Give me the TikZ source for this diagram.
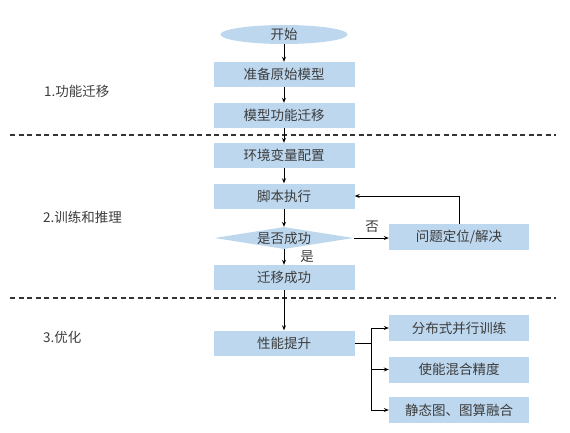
\documentclass[tikz,border=0pt]{standalone}
\usepackage{fontspec}
\setmainfont{Noto Sans CJK SC}
\usetikzlibrary{shapes.geometric,arrows.meta}
\definecolor{boxblue}{HTML}{BDD7EE}
\definecolor{txt}{HTML}{3C3C3C}
\begin{document}
\begin{tikzpicture}[x=1pt,y=-1pt,
  every node/.style={font=\fontsize{13.5}{16}\selectfont, text=txt},
  box/.style={rectangle, fill=boxblue, minimum width=141pt, minimum height=25pt, inner sep=0pt},
  sbox/.style={rectangle, fill=boxblue, minimum width=140pt, minimum height=26pt, inner sep=0pt},
  oval/.style={ellipse, fill=boxblue, minimum width=127pt, minimum height=19pt, inner sep=0pt},
  dia/.style={diamond, fill=boxblue, aspect=6.3, minimum width=139pt, minimum height=22pt, inner sep=0pt},
  conn/.style={draw=black, line width=0.9pt, -{Stealth[length=5pt,width=4pt]}},
  plainline/.style={draw=black, line width=0.9pt},
  sep/.style={draw=black!80, line width=1.2pt, dash pattern=on 5pt off 3.5pt},
  lbl/.style={anchor=west, inner sep=0pt}
]
\useasboundingbox (0,0) rectangle (570,433);
% separators
\coordinate (s1a) at (10,135); \coordinate (s1b) at (556,135);
\coordinate (s2a) at (10,298); \coordinate (s2b) at (556,298);
\draw[sep] (s1a) -- (s1b);
\draw[sep] (s2a) -- (s2b);
% section labels
\node[lbl] (l1) at (44,91) {1.功能迁移};
\node[lbl] (l2) at (43,217) {2.训练和推理};
\node[lbl] (l3) at (43,337) {3.优化};
% main column
\node[oval] (st) at (284,34.5) {开始};
\node[box] (b1) at (284,74.5) {准备原始模型};
\node[box] (b2) at (284,115.5) {模型功能迁移};
\node[box] (b3) at (284,155.5) {环境变量配置};
\node[box] (b4) at (284,196) {脚本执行};
\node[dia] (d) at (284,238) {是否成功};
\node[box] (b5) at (284,277.5) {迁移成功};
\node[box] (b6) at (284,343) {性能提升};
% side boxes
\node[sbox] (q) at (459,237) {问题定位/解决};
\node[sbox] (r1) at (459,328) {分布式并行训练};
\node[sbox] (r2) at (459,369.5) {使能混合精度};
\node[sbox] (r3) at (459,410) {静态图、图算融合};
% connectors
\draw[conn] (st) -- (b1);
\draw[conn] (b1) -- (b2);
\draw[conn] (b2) -- (b3);
\draw[conn] (b3) -- (b4);
\draw[conn] (b4) -- (d);
\draw[conn] (d) -- (b5);
\draw[conn] (b5) -- (b6);
\draw[conn] (d.east) -- (d.east -| q.west);
\draw[conn] (q.north) |- (b4.east);
\coordinate (br) at (371,343);
\draw[plainline] (b6.east) -- (br);
\draw[conn] (br) |- (r1.west);
\draw[conn] (br) |- (r2.west);
\draw[conn] (br) |- (r3.west);
% edge labels
\node (no) at (372,227) {否};
\node (yes) at (307,257) {是};
\end{tikzpicture}
\end{document}
